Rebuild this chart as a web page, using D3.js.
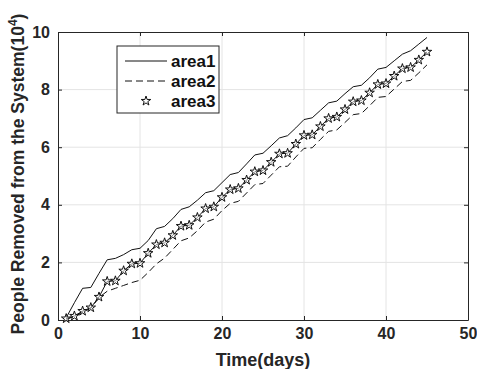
<!DOCTYPE html>
<html>
<head>
<meta charset="utf-8">
<script src="https://cdn.jsdelivr.net/npm/d3@7"></script>
<style>
  body { margin: 0; background: #fff; }
  svg { font-family: "Liberation Sans", Arial, sans-serif; }
</style>
</head>
<body>
<svg width="477" height="369"></svg>
<script>
// days 1..45
var days = d3.range(1, 46);

var area1 = [0.08,0.6,1.1,1.13,1.62,2.09,2.14,2.27,2.44,2.49,2.76,3.17,3.25,3.52,3.84,3.93,4.16,4.42,4.49,4.77,
  5.05,5.12,5.42,5.73,5.79,6.05,6.32,6.40,6.67,6.96,7.02,7.28,7.54,7.60,7.86,8.10,8.15,8.41,8.71,8.77,
  9.00,9.23,9.35,9.58,9.81];
var area2 = [0.03,0.12,0.28,0.40,0.78,1.0,1.1,1.2,1.3,1.38,1.65,1.95,2.15,2.45,2.75,2.85,3.1,3.4,3.5,3.8,
  4.05,4.12,4.41,4.70,4.74,5.03,5.32,5.34,5.66,5.96,5.98,6.27,6.55,6.60,6.86,7.13,7.17,7.44,7.73,7.76,
  8.02,8.28,8.32,8.58,8.86];
var area3 = [0.05,0.14,0.31,0.43,0.80,1.34,1.36,1.71,1.95,1.97,2.32,2.62,2.68,2.94,3.26,3.29,3.56,3.87,3.93,4.26,
  4.53,4.57,4.86,5.15,5.19,5.48,5.77,5.79,6.11,6.41,6.43,6.72,7.00,7.05,7.31,7.58,7.62,7.89,8.18,8.21,
  8.47,8.73,8.77,9.03,9.31];

var xTicks = [0,10,20,30,40,50];
var yTicks = [0,2,4,6,8,10];
var legendNames = ['area1','area2','area3'];

var pLeft = 58, pRight = 468, pTop = 32, pBottom = 320;

var svg = d3.select('svg');

var x = d3.scaleLinear().domain([0,50]).range([pLeft, pRight]);
var y = d3.scaleLinear().domain([0,10]).range([pBottom, pTop]);

// grid
svg.append('g').selectAll('line')
    .data(xTicks.slice(1, -1))
    .enter()
    .append('line')
    .attr('x1', function(d){ return x(d); })
    .attr('x2', function(d){ return x(d); })
    .attr('y1', pTop).attr('y2', pBottom)
    .attr('stroke', '#e4e4e4');
svg.append('g').selectAll('line')
    .data(yTicks.slice(1, -1))
    .enter()
    .append('line')
    .attr('y1', function(d){ return y(d); })
    .attr('y2', function(d){ return y(d); })
    .attr('x1', pLeft).attr('x2', pRight)
    .attr('stroke', '#e4e4e4');

// axes, ticks inside
var axB = svg.append('g').attr('transform', 'translate(0,' + pBottom + ')')
    .call(d3.axisBottom(x).tickValues(xTicks).tickSizeInner(-4).tickSizeOuter(0).tickPadding(8));
var axL = svg.append('g').attr('transform', 'translate(' + pLeft + ',0)')
    .call(d3.axisLeft(y).tickValues(yTicks).tickSizeInner(-4).tickSizeOuter(0).tickPadding(8));
var axT = svg.append('g').attr('transform', 'translate(0,' + pTop + ')')
    .call(d3.axisTop(x).tickValues(xTicks).tickSizeInner(-4).tickSizeOuter(0).tickFormat(''));
var axR = svg.append('g').attr('transform', 'translate(' + pRight + ',0)')
    .call(d3.axisRight(y).tickValues(yTicks).tickSizeInner(-4).tickSizeOuter(0).tickFormat(''));

[axB, axL, axT, axR].forEach(function(a){
    a.select('.domain').attr('stroke', '#262626');
    a.selectAll('.tick line').attr('stroke', '#262626');
    a.selectAll('.tick text')
        .attr('fill', '#262626')
        .style('font-size', '16px')
        .style('font-weight', 'bold');
});

// lines
var line = function(vals){
    return d3.line()
        .x(function(d, i){ return x(days[i]); })
        .y(function(d){ return y(d); })(vals);
};

svg.append('path').attr('d', line(area1))
    .attr('fill', 'none').attr('stroke', '#111').attr('stroke-width', 1);
svg.append('path').attr('d', line(area2))
    .attr('fill', 'none').attr('stroke', '#111').attr('stroke-width', 1)
    .attr('stroke-dasharray', '7,4');
svg.append('path').attr('d', line(area3))
    .attr('fill', 'none').attr('stroke', '#111').attr('stroke-width', 1);

var star = d3.symbol().type(d3.symbolStar).size(28);
svg.append('g').selectAll('path')
    .data(area3)
    .enter()
    .append('path')
    .attr('d', star)
    .attr('transform', function(d, i){ return 'translate(' + x(days[i]) + ',' + y(d) + ')'; })
    .attr('fill', '#fff')
    .attr('fill-opacity', 0.5)
    .attr('stroke', '#111')
    .attr('stroke-width', 1);

// legend
var lg = svg.append('g');
lg.append('rect')
    .attr('x', 117).attr('y', 46).attr('width', 102).attr('height', 67)
    .attr('fill', '#fff').attr('stroke', '#262626').attr('stroke-width', 1);
legendNames.forEach(function(name, i){
    var ly = 61 + i * 20;
    if (i < 2) {
        lg.append('line')
            .attr('x1', 125).attr('x2', 167).attr('y1', ly).attr('y2', ly)
            .attr('stroke', '#111').attr('stroke-width', 1)
            .attr('stroke-dasharray', i === 1 ? '7,4' : null);
    } else {
        lg.append('path').attr('d', star)
            .attr('transform', 'translate(146,' + ly + ')')
            .attr('fill', 'none').attr('stroke', '#111').attr('stroke-width', 1);
    }
    lg.append('text')
        .attr('x', 171).attr('y', ly + 6)
        .style('font-size', '17px').style('font-weight', 'bold')
        .attr('fill', '#111')
        .text(name);
});

// axis titles
svg.append('text')
    .attr('x', (pLeft + pRight) / 2).attr('y', 366)
    .attr('text-anchor', 'middle')
    .style('font-size', '18px').style('font-weight', 'bold')
    .attr('fill', '#262626')
    .text('Time(days)');

var yt = svg.append('text')
    .attr('transform', 'translate(24,' + ((pTop + pBottom) / 2 - 2) + ') rotate(-90)')
    .attr('text-anchor', 'middle')
    .style('font-size', '17.5px').style('font-weight', 'bold')
    .attr('fill', '#262626');
yt.append('tspan').text('People Removed from the System(10');
yt.append('tspan').attr('dy', -7).style('font-size', '12px').text('4');
yt.append('tspan').attr('dy', 7).text(')');
</script>
</body>
</html>
